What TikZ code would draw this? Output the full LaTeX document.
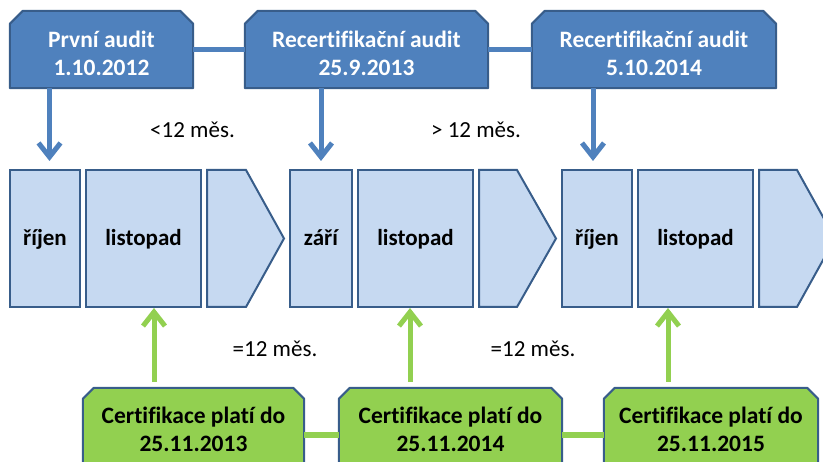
\documentclass[tikz,border=0pt]{standalone}
\usepackage{fontspec}
\setmainfont[Ligatures=CommonOff]{Carlito}
\usetikzlibrary{arrows.meta,backgrounds}
\definecolor{topblue}{RGB}{79,129,189}
\definecolor{edgeblue}{RGB}{56,93,138}
\definecolor{monthfill}{RGB}{198,217,241}
\definecolor{certgreen}{RGB}{146,208,80}
\newcommand\chamfbox[3]{%
  \filldraw[fill=#2, draw=edgeblue, line width=2pt, line join=round]
    (#1.south west) -- ([yshift=-#3]#1.north west) -- ([xshift=#3]#1.north west)
    -- ([xshift=-#3]#1.north east) -- ([yshift=-#3]#1.north east) -- (#1.south east) -- cycle;}
\tikzset{
  holder/.style={rectangle, inner sep=0pt, minimum width=#1},
  topbox/.style={holder=#1, minimum height=77pt},
  certbox/.style={holder=#1, minimum height=94pt},
  toptext/.style={anchor=base, inner sep=0pt, align=center, text=white,
    font=\fontsize{23.5}{28}\selectfont\bfseries},
  certtext/.style={anchor=base, inner sep=0pt, align=center, text=black,
    font=\fontsize{23.5}{28}\selectfont\bfseries},
  monthbox/.style={rectangle, draw=edgeblue, fill=monthfill, line width=2pt,
    inner sep=0pt, minimum width=#1, minimum height=137pt,
    text height=18pt, text depth=4pt, font=\fontsize{23}{28}\selectfont\bfseries},
  chevronshape/.style={draw=edgeblue, fill=monthfill, line width=2pt},
  gaplabel/.style={anchor=base, inner sep=0pt, font=\fontsize{23}{28}\selectfont},
  blink/.style={draw=topblue, line width=5.5pt},
  glink/.style={draw=certgreen, line width=5.5pt},
  barrow/.style={draw=topblue, line width=5pt, -{Straight Barb[length=14pt,width=22pt]}},
  garrow/.style={draw=certgreen, line width=5pt, -{Straight Barb[length=14pt,width=22pt]}},
}
\begin{document}
\begin{tikzpicture}[x=1pt,y=-1pt]
\useasboundingbox (0,0) rectangle (823,462);
% top boxes
\node[topbox=183pt] (tb1) at (101.5,49.5) {};
\node[topbox=243pt] (tb2) at (366.5,49.5) {};
\node[topbox=244pt] (tb3) at (654,49.5) {};
% certificate boxes
\node[certbox=221pt] (g1) at (193.5,435) {};
\node[certbox=223pt] (g2) at (450.5,435) {};
\node[certbox=214pt] (g3) at (711,435) {};
\begin{scope}[on background layer]
\chamfbox{tb1}{topblue}{13pt}
\chamfbox{tb2}{topblue}{13pt}
\chamfbox{tb3}{topblue}{13pt}
\chamfbox{g1}{certgreen}{11pt}
\chamfbox{g2}{certgreen}{11pt}
\chamfbox{g3}{certgreen}{11pt}
\end{scope}
\node[toptext] (tt1) at (101.5,75.5) {První audit\\1.10.2012};
\node[toptext] (tt2) at (366.5,75.5) {Recertifikační audit\\25.9.2013};
\node[toptext] (tt3) at (654,75.5) {Recertifikační audit\\5.10.2014};
\node[certtext] (gt1) at (193.5,452) {Certifikace platí do\\25.11.2013};
\node[certtext] (gt2) at (450.5,452) {Certifikace platí do\\25.11.2014};
\node[certtext] (gt3) at (711,452) {Certifikace platí do\\25.11.2015};
% months
\node[monthbox=70pt] (m1) at (45,238.5) {říjen};
\node[monthbox=115pt] (m2) at (143.5,238.5) {listopad};
\node[monthbox=62pt] (m3) at (321,238.5) {září};
\node[monthbox=115pt] (m4) at (415.5,238.5) {listopad};
\node[monthbox=70pt] (m5) at (597,238.5) {říjen};
\node[monthbox=115pt] (m6) at (695.5,238.5) {listopad};
\draw[chevronshape] (207,170) -- (246,170) -- (284,238.5) -- (246,307) -- (207,307) -- cycle;
\draw[chevronshape] (479,170) -- (517,170) -- (556,238.5) -- (517,307) -- (479,307) -- cycle;
\draw[chevronshape] (759,170) -- (797,170) -- (835,238.5) -- (797,307) -- (759,307) -- cycle;
% gap labels
\node[gaplabel] (l1) at (192.5,138) {<12 měs.};
\node[gaplabel] (l2) at (476,138) {> 12 měs.};
\node[gaplabel] (l3) at (275,357) {=12 měs.};
\node[gaplabel] (l4) at (533,357) {=12 měs.};
% links
\draw[blink] (tb1.east) -- (tb2.west);
\draw[blink] (tb2.east) -- (tb3.west);
\draw[glink] (g1.east) -- (g2.west);
\draw[glink] (g2.east) -- (g3.west);
% arrows
\coordinate (ax1) at (49.5,0);
\coordinate (ax2) at (321,0);
\coordinate (ax3) at (593,0);
\coordinate (gx1) at (154,0);
\coordinate (gx2) at (410,0);
\coordinate (gx3) at (668,0);
\draw[barrow, shorten >=8pt] (tb1.south -| ax1) -- (m1.north -| ax1);
\draw[barrow, shorten >=8pt] (tb2.south -| ax2) -- (m3.north -| ax2);
\draw[barrow, shorten >=8pt] (tb3.south -| ax3) -- (m5.north -| ax3);
\draw[garrow, shorten <=6pt] (g1.north -| gx1) -- (m2.south -| gx1);
\draw[garrow, shorten <=6pt] (g2.north -| gx2) -- (m4.south -| gx2);
\draw[garrow, shorten <=6pt] (g3.north -| gx3) -- (m6.south -| gx3);
\end{tikzpicture}
\end{document}
